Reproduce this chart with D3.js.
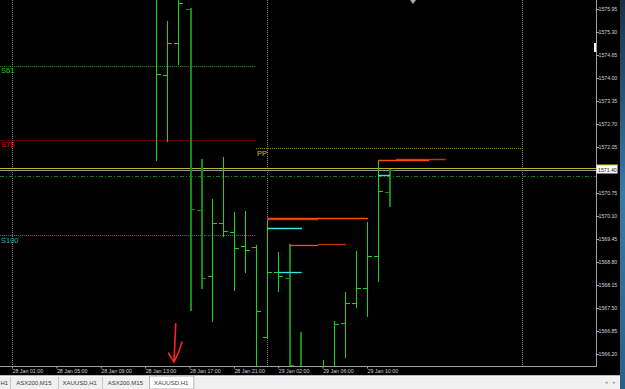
<!DOCTYPE html>
<html>
<head>
<meta charset="utf-8">
<script src="https://cdn.jsdelivr.net/npm/d3@7"></script>
<style>
html, body { margin: 0; padding: 0; background: #000; overflow: hidden; }
svg { display: block; font-family: "Liberation Sans", Arial, sans-serif; }
</style>
</head>
<body>
<svg id="chart" width="625" height="389"></svg>
<script>
// XAUUSD,H1 bars (index 0 = 28 Jan 01:00)
const barIdx   = [13, 14, 15, 16, 17, 18, 19, 20, 21, 22, 23, 24, 25, 26, 27, 28, 29, 30, 31, 32, 33, 34];
const barOpen  = [1576.40, 1574.08, 1574.99, 1575.95, 1570.27, 1568.40, 1569.90, 1569.65, 1569.25, 1569.22, 1566.68,
                  1568.52, 1568.35, 1565.87, 1565.60, 1565.50, 1565.70, 1567.08, 1567.64, 1568.07, 1568.97, 1570.78];
const barHigh  = [1576.55, 1575.61, 1576.50, 1575.97, 1571.71, 1570.58, 1571.77, 1570.21, 1570.24, 1569.28, 1570.04,
                  1569.08, 1569.31, 1566.82, 1565.80, 1566.03, 1567.13, 1567.94, 1569.11, 1569.93, 1571.68, 1571.43];
const barLow   = [1571.65, 1572.19, 1574.37, 1567.42, 1568.04, 1567.10, 1569.51, 1567.98, 1568.49, 1565.70, 1566.66,
                  1567.94, 1565.60, 1565.50, 1565.20, 1565.40, 1565.60, 1566.09, 1567.50, 1567.25, 1568.24, 1570.35];
const barClose = [1574.11, 1574.99, 1576.12, 1570.30, 1568.35, 1569.90, 1569.68, 1569.20, 1569.14, 1567.42, 1568.52,
                  1568.40, 1565.89, 1565.70, 1565.50, 1565.75, 1567.05, 1567.64, 1568.07, 1568.97, 1570.81, 1571.40];
const barKind  = ["up", "up", "up", "dn", "dn", "up", "up", "up", "up", "up", "up",
                  "up", "dn", "dn", "dn", "up", "up", "up", "up", "up", "up", "dn"];

const priceTicks = [1566.20, 1566.85, 1567.50, 1568.15, 1568.80, 1569.45, 1570.10, 1570.75,
                    1571.40, 1572.05, 1572.70, 1573.35, 1574.00, 1574.65, 1575.30, 1575.95];
const timeTickIdx = [0, 4, 8, 12, 16, 20, 24, 28, 32];
const timeTickLabels = ["28 Jan 01:00", "28 Jan 05:00", "28 Jan 09:00", "28 Jan 13:00", "28 Jan 17:00",
                        "28 Jan 21:00", "29 Jan 02:00", "29 Jan 06:00", "29 Jan 10:00"];
const daySeparators = [0, 23, 46];

// pivot levels
const pivotNames  = ["S61", "S75", "S100", "PP"];
const pivotPrices = [1574.34, 1572.25, 1569.56, 1572.02];
const pivotFrom   = [-1.1, -1.1, -1.1, 22];
const pivotTo     = [22, 22, 22, 46.05];

const bidPrice = 1571.40;
const askPrice = 1571.47;
const hLinePrice = 1571.23;

// short indicator levels [from idx, to idx, price]
const redLevels   = [[23, 32.1, 1570.04], [25, 27.6, 1569.29], [33, 37.6, 1571.67]];
const redShadow   = [[23, 27.6, 1570.01], [27.6, 30.1, 1569.32], [34.6, 39.1, 1571.70]];
const cyanLevels  = [[23, 26.14, 1569.76], [24.04, 26.11, 1568.51], [33, 34.07, 1571.26]];

const tabNames = ["H1", "ASX200,M15", "XAUUSD,H1", "ASX200,M15", "XAUUSD,H1"];

const W = 625, H = 389, plotR = 596, plotB = 366;

const svg = d3.select("#chart");

const x = d3.scaleLinear().domain([0, 32]).range([12, 367]);
const y = d3.scaleLinear().domain([1566.20, 1575.95]).range([354, 9]);

const pivotColor = { S61: ["#1c9a1c", "#2ec42e"], S75: ["#a80000", "#e01010"], S100: ["#1f8f8f", "#22b4b4"], PP: ["#8c8c00", "#c8c800"] };
const kindColor = { up: "#22d022", dn: "#178a17" };

const px = v => Math.round(v) + 0.5;

// background
svg.append("rect").attr("width", W).attr("height", H).attr("fill", "#000");

const defs = svg.append("defs");
defs.append("clipPath").attr("id", "plotClip")
    .append("rect").attr("x", 0).attr("y", 0).attr("width", plotR).attr("height", plotB);
const grad = defs.append("linearGradient").attr("id", "desk").attr("x1", 0).attr("y1", 0).attr("x2", 0).attr("y2", 1);
grad.append("stop").attr("offset", "0%").attr("stop-color", "#1a2f48");
grad.append("stop").attr("offset", "50%").attr("stop-color", "#3b7aa6");
grad.append("stop").attr("offset", "100%").attr("stop-color", "#2a5f88");

const plot = svg.append("g").attr("clip-path", "url(#plotClip)");

// day separator grid
plot.selectAll(".vgrid")
    .data(daySeparators)
    .enter()
    .append("line")
    .attr("class", "vgrid")
    .attr("x1", d => px(x(d))).attr("x2", d => px(x(d)))
    .attr("y1", 0).attr("y2", plotB)
    .attr("stroke", "#8a8a8a")
    .attr("stroke-dasharray", "1,1");

// pivot lines
plot.selectAll(".pivot")
    .data(pivotNames)
    .enter()
    .append("line")
    .attr("class", "pivot")
    .attr("x1", (d, i) => x(pivotFrom[i])).attr("x2", (d, i) => x(pivotTo[i]))
    .attr("y1", (d, i) => px(y(pivotPrices[i]))).attr("y2", (d, i) => px(y(pivotPrices[i])))
    .attr("stroke", d => pivotColor[d][0])
    .attr("stroke-dasharray", "1,1");

plot.selectAll(".pivotLbl")
    .data(pivotNames)
    .enter()
    .append("text")
    .attr("class", "pivotLbl")
    .attr("x", (d, i) => Math.max(1, x(pivotFrom[i]) + 1))
    .attr("y", (d, i) => y(pivotPrices[i]) + 7.5)
    .attr("fill", d => pivotColor[d][1])
    .style("font-size", "7.5px")
    .text(d => d);

// bid / ask / horizontal line
plot.append("line")
    .attr("x1", 0).attr("x2", plotR)
    .attr("y1", px(y(askPrice))).attr("y2", px(y(askPrice)))
    .attr("stroke", "#b8b832");
plot.append("line")
    .attr("x1", 0).attr("x2", plotR)
    .attr("y1", px(y(bidPrice))).attr("y2", px(y(bidPrice)))
    .attr("stroke", "#9a9a9a");
plot.append("line")
    .attr("x1", 0).attr("x2", plotR)
    .attr("y1", px(y(hLinePrice))).attr("y2", px(y(hLinePrice)))
    .attr("stroke", "#1a7a1a")
    .attr("stroke-dasharray", "4,2,1,2");

// OHLC bars
const bars = plot.selectAll(".bar")
    .data(barIdx)
    .enter()
    .append("g")
    .attr("class", "bar")
    .attr("stroke", (d, i) => kindColor[barKind[i]])
    .attr("shape-rendering", "crispEdges");

bars.append("line")
    .attr("x1", d => px(x(d))).attr("x2", d => px(x(d)))
    .attr("y1", (d, i) => y(barHigh[i])).attr("y2", (d, i) => y(barLow[i]))
    .attr("stroke-width", (d, i) => barKind[i] === "dn" ? 2 : 1);
bars.append("line")
    .attr("x1", d => Math.round(x(d)) - 4).attr("x2", d => Math.round(x(d)))
    .attr("y1", (d, i) => px(y(barOpen[i]))).attr("y2", (d, i) => px(y(barOpen[i])));
bars.append("line")
    .attr("x1", d => Math.round(x(d)) + 1).attr("x2", d => Math.round(x(d)) + 5)
    .attr("y1", (d, i) => px(y(barClose[i]))).attr("y2", (d, i) => px(y(barClose[i])));

// indicator levels
function drawLevels(data, color) {
    plot.append("g").selectAll("line")
        .data(data)
        .enter()
        .append("line")
        .attr("x1", d => x(d[0])).attr("x2", d => x(d[1]))
        .attr("y1", d => px(y(d[2]))).attr("y2", d => px(y(d[2])))
        .attr("stroke", color)
        .attr("stroke-width", 1.3);
}
drawLevels(redShadow, "#b83808");
drawLevels(redLevels, "#ff4a0a");
drawLevels(cyanLevels, "#2ee6f0");

// hand drawn arrow
const tipX = x(14.6), tipY = y(1565.97);
svg.append("path")
    .attr("d", "M" + x(14.76) + "," + y(1567.05) + " L" + tipX + "," + tipY +
               " M" + (tipX - 5.5) + "," + (tipY - 9) + " L" + tipX + "," + tipY +
               " Q" + (tipX + 5) + "," + (tipY - 9) + " " + (tipX + 8) + "," + (tipY - 20))
    .attr("fill", "none")
    .attr("stroke", "#ff2020")
    .attr("stroke-width", 1.6)
    .attr("stroke-linecap", "round");

// chart shift marker
svg.append("path").attr("d", "M410,0 L416,0 L413,4 Z").attr("fill", "#a8a8a8");
svg.append("rect").attr("x", 594).attr("y", 43).attr("width", 2).attr("height", 9).attr("fill", "#f4f4f4");

// borders
svg.append("line").attr("x1", plotR + 0.5).attr("x2", plotR + 0.5).attr("y1", 0).attr("y2", plotB + 1).attr("stroke", "#a0a0a0");
svg.append("line").attr("x1", 0).attr("x2", plotR + 1).attr("y1", plotB + 0.5).attr("y2", plotB + 0.5).attr("stroke", "#a0a0a0");

// price axis
const yAxis = svg.append("g")
    .attr("transform", "translate(" + (plotR + 1) + ",0)")
    .call(d3.axisRight(y).tickValues(priceTicks).tickSize(2).tickFormat(d3.format(".2f")));
yAxis.select(".domain").remove();
yAxis.selectAll("line").attr("stroke", "#a0a0a0");
yAxis.selectAll("text")
    .attr("x", 1.5)
    .attr("fill", "#d4d4d4")
    .style("font-size", "5.2px")
    .style("font-family", "'Liberation Sans', Arial, sans-serif");

// current price label
const bidY = y(bidPrice);
svg.append("rect").attr("x", plotR + 0.5).attr("y", bidY - 5).attr("width", 21).attr("height", 8.5).attr("fill", "#fbfbfb");
svg.append("line").attr("x1", plotR).attr("x2", plotR + 22).attr("y1", bidY - 5).attr("y2", bidY - 5).attr("stroke", "#d8d820");
svg.append("text").attr("x", plotR + 2).attr("y", bidY + 1.8)
    .attr("fill", "#222").style("font-size", "5.2px").text(d3.format(".2f")(bidPrice));

// time axis
const xAxis = svg.append("g")
    .attr("transform", "translate(0," + (plotB + 0.5) + ")")
    .call(d3.axisBottom(x).tickValues(timeTickIdx).tickSize(2).tickFormat((d, i) => timeTickLabels[i]));
xAxis.select(".domain").remove();
xAxis.selectAll("line").attr("stroke", "#a0a0a0");
xAxis.selectAll("text")
    .attr("y", 3)
    .attr("text-anchor", "start")
    .attr("fill", "#d0d0d0")
    .style("font-size", "5.3px")
    .style("font-family", "'Liberation Sans', Arial, sans-serif");

// tab bar
svg.append("rect").attr("x", 0).attr("y", 375.5).attr("width", 620).attr("height", 14).attr("fill", "#f0f0f0");
svg.append("line").attr("x1", 0).attr("x2", 620).attr("y1", 376).attr("y2", 376).attr("stroke", "#fdfdfd");
const tabEdges = [-12, 10, 57.7, 101.7, 149, 193.3];
svg.append("rect").attr("x", tabEdges[4] + 0.5).attr("y", 376).attr("width", tabEdges[5] - tabEdges[4]).attr("height", 13)
    .attr("fill", "#ffffff").attr("stroke", "#b4b4b4");
svg.selectAll(".tabSep")
    .data(tabEdges.slice(1, 4))
    .enter()
    .append("line")
    .attr("x1", d => px(d)).attr("x2", d => px(d))
    .attr("y1", 377).attr("y2", 389)
    .attr("stroke", "#c4c4c4");
svg.selectAll(".tab")
    .data(tabNames)
    .enter()
    .append("text")
    .attr("class", "tab")
    .attr("x", (d, i) => i === 0 ? 0.5 : (tabEdges[i] + tabEdges[i + 1]) / 2)
    .attr("y", 384.5)
    .attr("text-anchor", (d, i) => i === 0 ? "start" : "middle")
    .attr("fill", "#3a3a3a")
    .style("font-size", "6px")
    .text(d => d);
svg.append("text").attr("x", 605).attr("y", 383.5).attr("fill", "#9a9a9a").style("font-size", "5px").text("◂");
svg.append("text").attr("x", 613).attr("y", 383.5).attr("fill", "#9a9a9a").style("font-size", "5px").text("▸");

// desktop edge
svg.append("rect").attr("x", 620).attr("y", 0).attr("width", 5).attr("height", H).attr("fill", "url(#desk)");
</script>
</body>
</html>
